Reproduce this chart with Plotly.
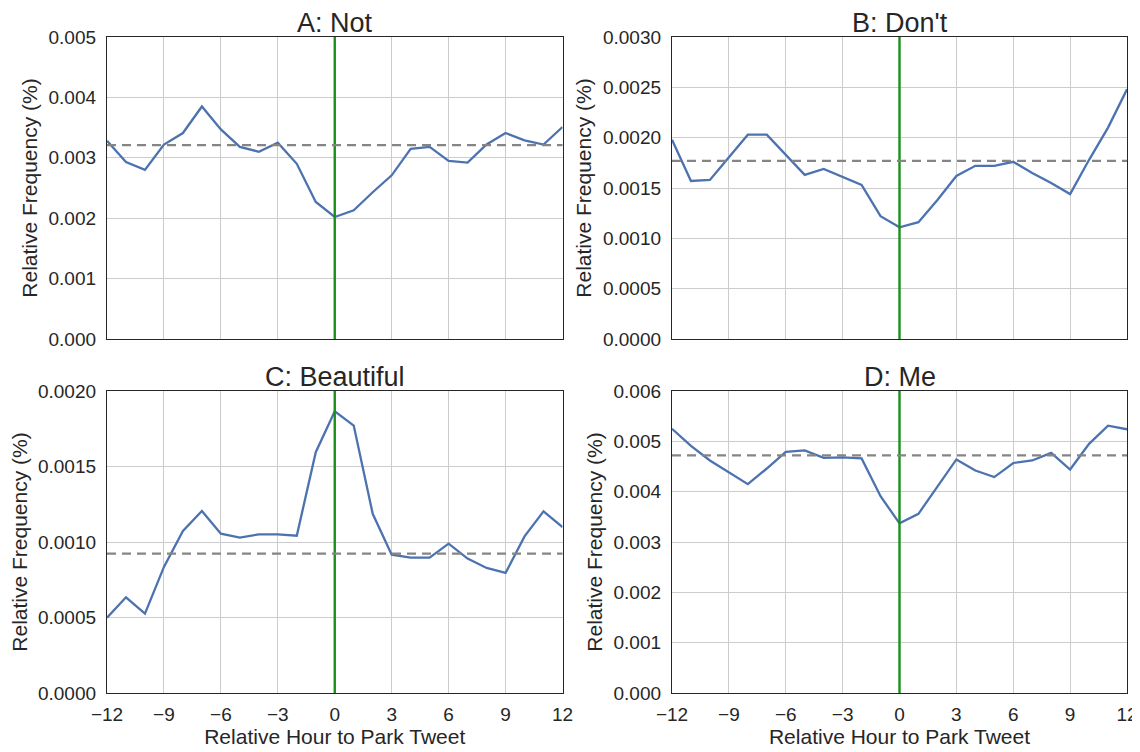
import plotly.graph_objects as go

hours = list(range(-12, 13))
x_ticks = [-12, -9, -6, -3, 0, 3, 6, 9, 12]

titles = ["A: Not", "B: Don't", "C: Beautiful", "D: Me"]

not_vals = [0.00328, 0.00293, 0.00280, 0.00322, 0.00341, 0.00385, 0.00347, 0.00318,
            0.00310, 0.00325, 0.00290, 0.00227, 0.00202, 0.00213, 0.00243, 0.00271,
            0.00315, 0.00318, 0.00295, 0.00292, 0.00322, 0.00341, 0.00329, 0.00322,
            0.00351]
dont_vals = [0.00198, 0.00157, 0.00158, 0.00181, 0.00203, 0.00203, 0.00183, 0.00163,
             0.00169, 0.00161, 0.00153, 0.00122, 0.00111, 0.00116, 0.00138, 0.00162,
             0.00172, 0.00172, 0.00176, 0.00165, 0.00155, 0.00144, 0.00178, 0.00210,
             0.00248]
beautiful_vals = [0.000498, 0.000634, 0.000526, 0.000835, 0.001073, 0.001205, 0.001055,
                  0.001029, 0.001051, 0.001051, 0.001042, 0.001595, 0.001866, 0.001771,
                  0.001187, 0.000916, 0.000896, 0.000896, 0.000989, 0.000890, 0.000828,
                  0.000795, 0.001037, 0.001203, 0.001099]
me_vals = [0.00525, 0.00491, 0.00462, 0.00439, 0.00415, 0.00446, 0.00479, 0.00482,
           0.00467, 0.00468, 0.00466, 0.00391, 0.00337, 0.00356, 0.00409, 0.00464,
           0.00442, 0.00429, 0.00457, 0.00462, 0.00477, 0.00444, 0.00495, 0.00531,
           0.00524]

mean_vals = [0.00321, 0.001769, 0.000923, 0.00472]
y_max = [0.005, 0.003, 0.002, 0.006]
y_dtick = [0.001, 0.0005, 0.0005, 0.001]
y_fmt = [".3f", ".4f", ".4f", ".3f"]

series = [not_vals, dont_vals, beautiful_vals, me_vals]

# page body has an 8px margin, so the figure is 8px smaller and offset
OFF = 8
W, H = 1140 - OFF, 752 - OFF
x_doms = [[(107 - OFF) / W, (562.5 - OFF) / W], [(672 - OFF) / W, (1127 - OFF) / W]]
y_doms = [[(752 - 339) / H, (752 - 37) / H], [(752 - 693) / H, (752 - 391) / H]]

TEXT = "#262626"
FONT = "Liberation Sans, Arial, sans-serif"

fig = go.Figure()
layout = dict(
    width=W, height=H,
    margin=dict(l=0, r=0, t=0, b=0),
    paper_bgcolor="white", plot_bgcolor="white",
    showlegend=False,
    font=dict(family=FONT, color=TEXT, size=19),
)

annotations = []
shapes = []
for i in range(4):
    row, col = divmod(i, 2)
    n = i + 1
    xa = "x" if n == 1 else f"x{n}"
    ya = "y" if n == 1 else f"y{n}"
    fig.add_trace(go.Scatter(
        x=hours, y=series[i], mode="lines",
        line=dict(color="#4C72B0", width=2.3),
        xaxis=xa, yaxis=ya, hoverinfo="x+y",
    ))
    xkey = "xaxis" if n == 1 else f"xaxis{n}"
    ykey = "yaxis" if n == 1 else f"yaxis{n}"
    layout[xkey] = dict(
        domain=x_doms[col], anchor=ya, range=[-12, 12], automargin=False,
        tickmode="array", tickvals=x_ticks,
        showticklabels=(row == 1),
        showgrid=True, gridcolor="#cccccc", gridwidth=1,
        showline=True, linecolor=TEXT, linewidth=1.3, mirror=True,
        zeroline=False, ticks="", ticklabelstandoff=4,
        tickfont=dict(size=19, color=TEXT),
        title=dict(text="Relative Hour to Park Tweet" if row == 1 else "",
                   font=dict(size=21, color=TEXT), standoff=3),
    )
    layout[ykey] = dict(
        domain=y_doms[row], anchor=xa, range=[0, y_max[i]], automargin=False,
        dtick=y_dtick[i], tick0=0, tickformat=y_fmt[i],
        showgrid=True, gridcolor="#cccccc", gridwidth=1,
        showline=True, linecolor=TEXT, linewidth=1.3, mirror=True,
        zeroline=False, ticks="", ticklabelstandoff=6,
        tickfont=dict(size=19, color=TEXT),
        title=dict(text="Relative Frequency (%)", font=dict(size=21, color=TEXT),
                   standoff=5),
    )
    shapes.append(dict(type="line", xref=xa, yref=f"{ya} domain", x0=0, x1=0, y0=0, y1=1,
                       line=dict(color="#1a8f1a", width=2.4), layer="above"))
    shapes.append(dict(type="line", xref=f"{xa} domain", yref=ya, x0=0, x1=1,
                       y0=mean_vals[i], y1=mean_vals[i],
                       line=dict(color="#858585", width=2.2, dash="9px,6px"),
                       layer="above"))
    annotations.append(dict(
        text=titles[i], xref="paper", yref="paper",
        x=sum(x_doms[col]) / 2, y=y_doms[row][1],
        xanchor="center", yanchor="bottom", yshift=-3, showarrow=False,
        font=dict(size=27, color=TEXT, family=FONT),
    ))

layout["annotations"] = annotations
layout["shapes"] = shapes
fig.update_layout(**layout)
fig.write_html("out.html")
